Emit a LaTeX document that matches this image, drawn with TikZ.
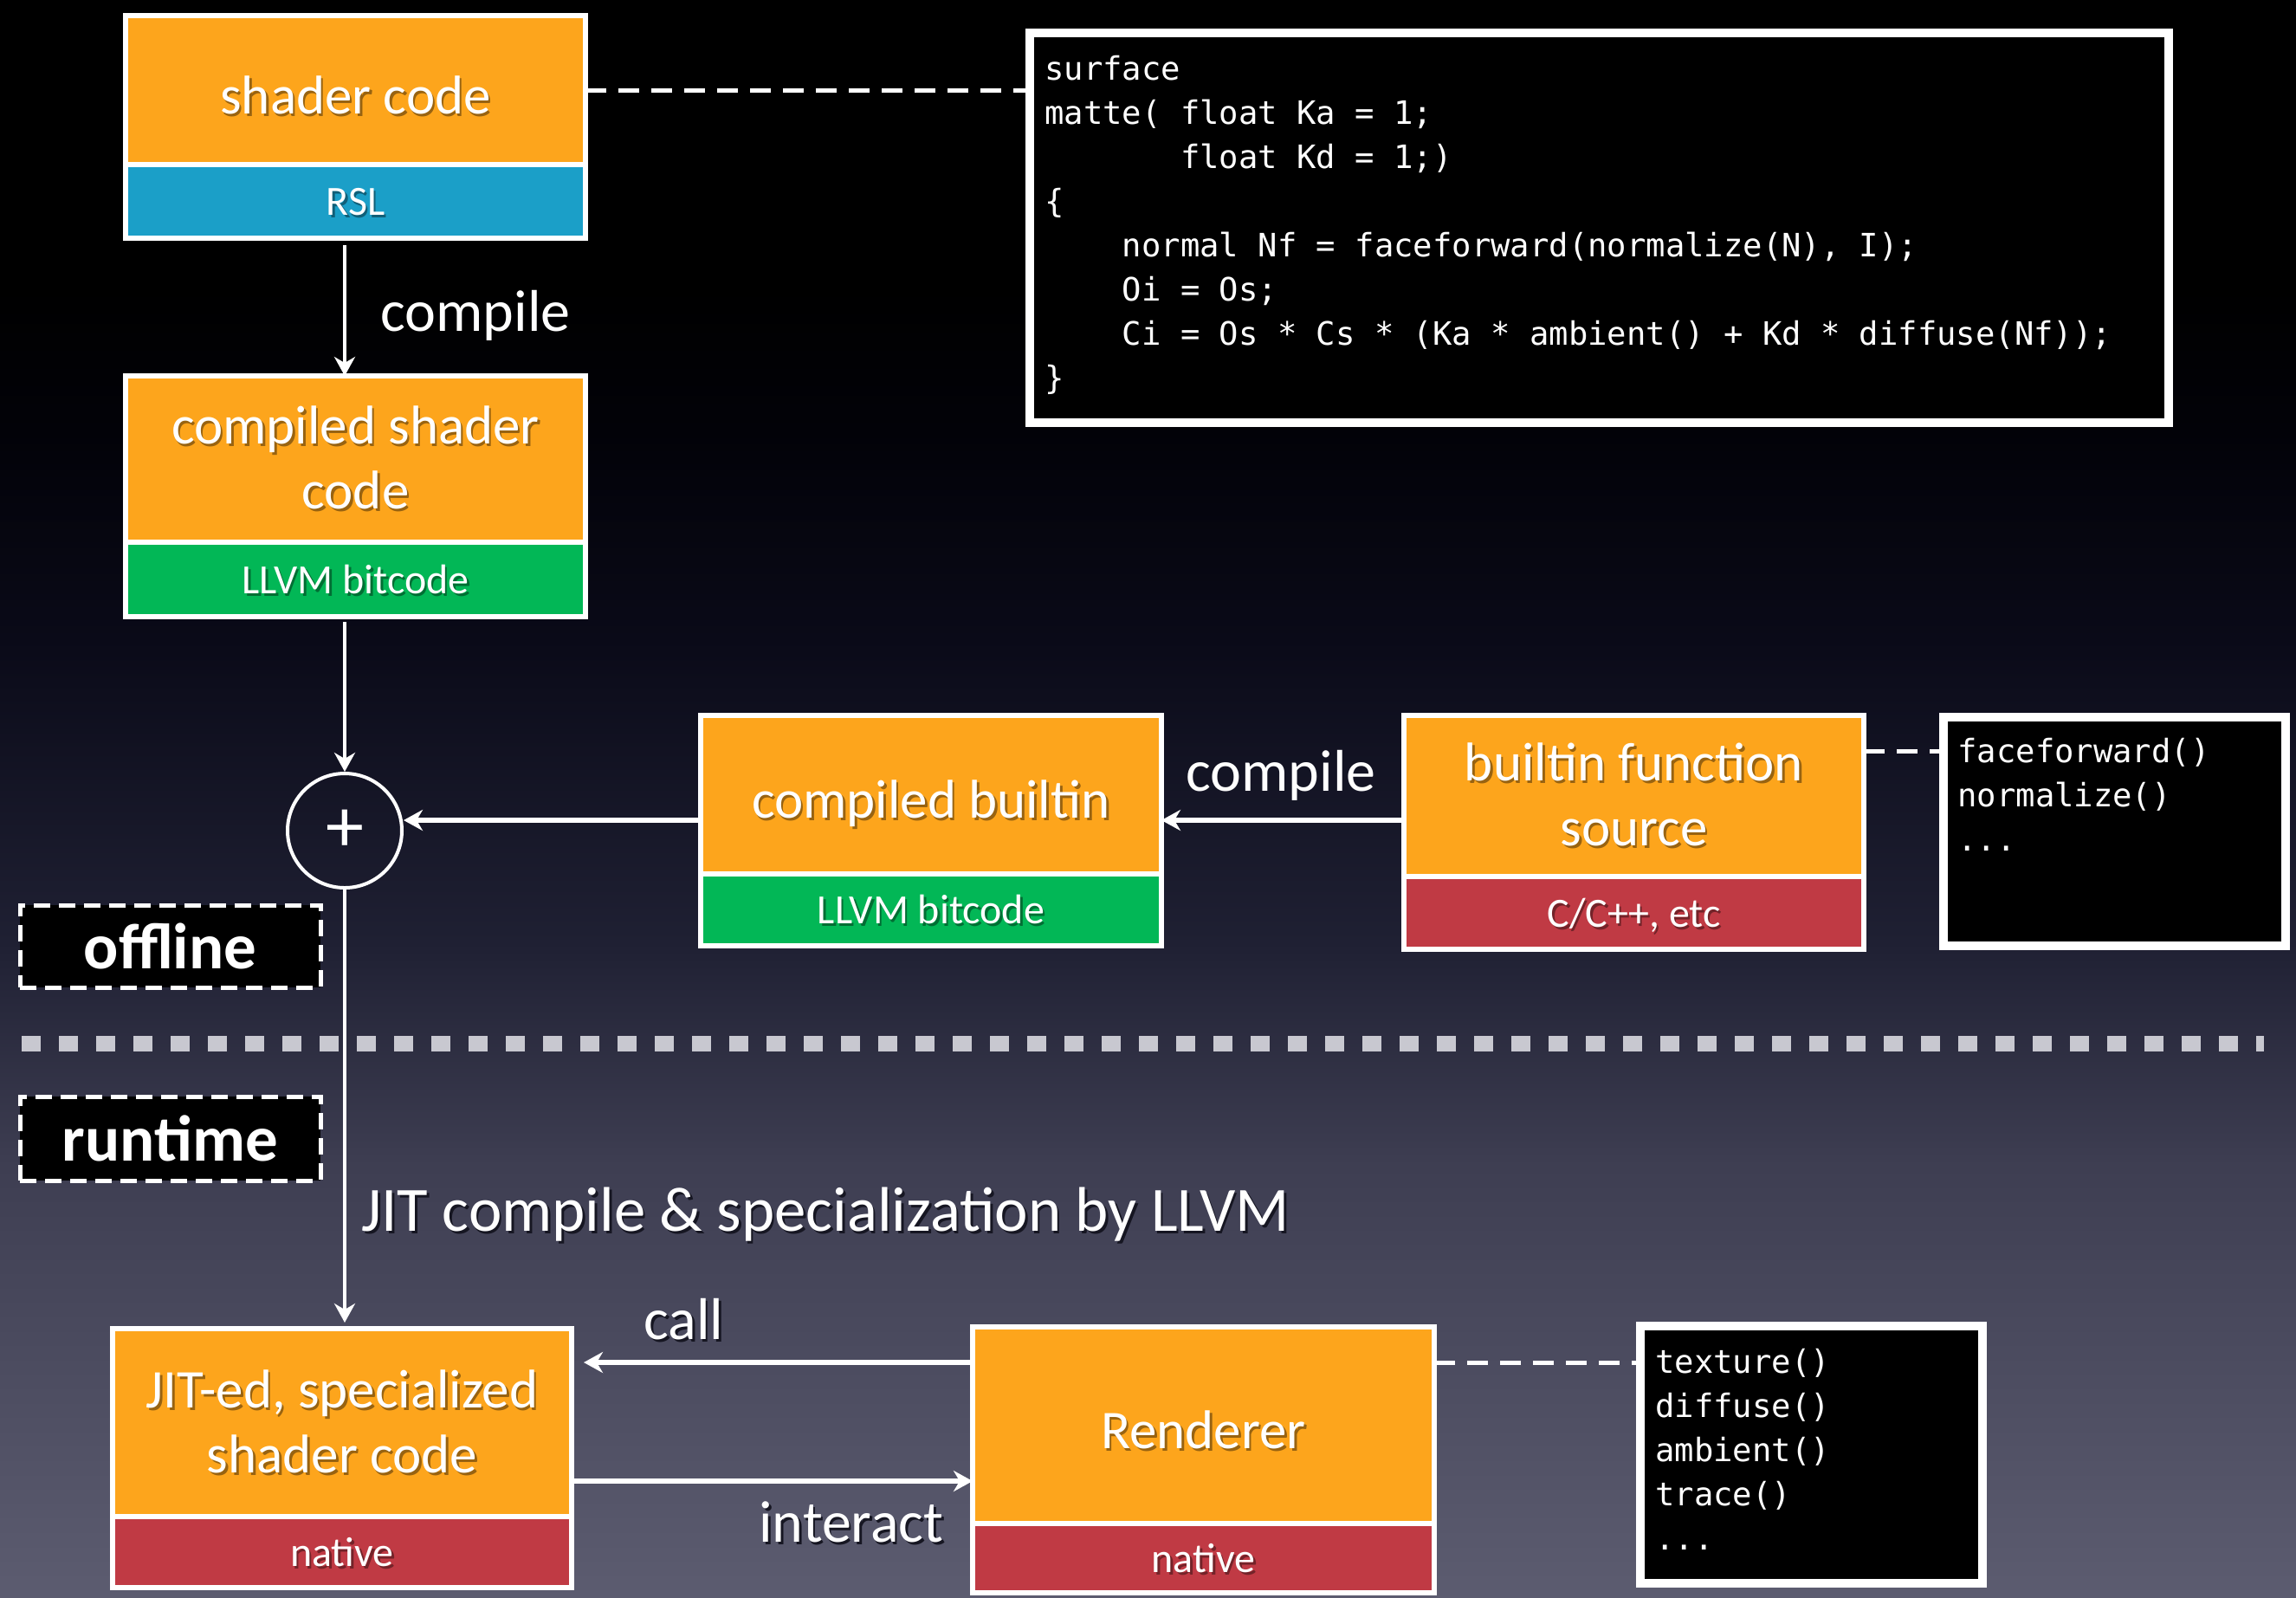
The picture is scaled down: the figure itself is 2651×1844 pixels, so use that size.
\documentclass[tikz,border=0pt]{standalone}
\usepackage{fontspec}
\setmainfont{Carlito}
\newfontfamily\codefont{DejaVu Sans Mono}
\usetikzlibrary{arrows.meta,calc}

% palette
\definecolor{boxorange}{RGB}{253,165,28}
\definecolor{rslblue}{RGB}{27,159,200}
\definecolor{bcgreen}{RGB}{2,183,86}
\definecolor{natred}{RGB}{192,58,68}
\definecolor{sepgray}{RGB}{200,200,208}
\colorlet{oshade}{boxorange!60!black}
\colorlet{bshade}{rslblue!60!black}
\colorlet{gshade}{bcgreen!60!black}
\colorlet{rshade}{natred!60!black}
\definecolor{dshade}{RGB}{22,22,34}
% background ramp, bottom to top
\definecolor{bgA}{RGB}{92,92,112}
\definecolor{bgB}{RGB}{62,62,82}
\definecolor{bgC}{RGB}{31,32,51}
\definecolor{bgD}{RGB}{10,10,24}
\definecolor{bgE}{RGB}{2,2,8}
\pgfdeclareverticalshading{slidebg}{100bp}{%
  color(0bp)=(bgA); color(25bp)=(bgA); color(38.5bp)=(bgB);
  color(45.5bp)=(bgC); color(55bp)=(bgD); color(61.5bp)=(bgE);
  color(66bp)=(black); color(100bp)=(black)}

% text with a drop shadow
\newcommand\sh[2]{\leavevmode\rlap{\kern1.3pt\raisebox{-1.6pt}{\textcolor{#1}{#2}}}#2}
\newcommand\biglbl{\fontsize{31.5pt}{37.5pt}\selectfont}
\newcommand\smalllbl{\fontsize{24pt}{28pt}\selectfont}
\newcommand\edgelbl{\fontsize{34pt}{40pt}\selectfont}
\newcommand\phasefont{\bfseries\fontsize{37.5pt}{40pt}\selectfont}
\newcommand\codesize{\codefont\fontsize{18.6pt}{25.55pt}\selectfont}

\begin{document}
\begin{tikzpicture}[x=0.5pt, y=-0.5pt,
  segbox/.style={draw=white, line width=2.7pt, inner sep=0pt, outer sep=0pt,
    anchor=north west, text=white},
  hibox/.style={segbox, fill=boxorange, font=\biglbl, align=center},
  oneline/.style={text height=27pt, text depth=0pt},
  lobox/.style={segbox, font=\smalllbl, text height=20pt, text depth=4pt},
  panel/.style={draw=white, line width=5pt, fill=black, inner sep=0pt,
    outer sep=0pt, anchor=north west},
  codetext/.style={anchor=base west, inner sep=0pt, text=white, font=\codesize},
  phasetag/.style={draw=white, line width=2.5pt, dash pattern=on 9.5pt off 5pt,
    fill=black, inner sep=0pt, anchor=north west, text=white, font=\phasefont},
  arrowline/.style={draw=white, line width=1.8pt,
    -{Stealth[length=11pt, width=12pt, inset=3.5pt]}},
  harrow/.style={arrowline, line width=2.6pt},
  dashlink/.style={draw=white, line width=2.5pt, dash pattern=on 12pt off 7pt},
  elbl/.style={anchor=base west, inner sep=0pt, text=white, font=\edgelbl},
]
% canvas and background
\useasboundingbox (0,0) rectangle (2651,1844);
\shade[shading=slidebg] (0,0) rectangle (2651,1844);

% offline / runtime separator
\draw[sepgray, line width=9pt, dash pattern=on 11pt off 10.5pt] (25,1205) -- (2614,1205);

% two-part boxes
\node[hibox, oneline, minimum width=265.5pt, minimum height=86pt] (sct) at (145,18) {\sh{oshade}{shader code}};
\node[lobox, fill=rslblue, minimum width=265.5pt, minimum height=42.5pt] (scb) at (145,190) {\sh{bshade}{RSL}};

\node[hibox, minimum width=265.5pt, minimum height=96pt] (csct) at (145,434) {\sh{oshade}{compiled shader}\\\sh{oshade}{code}};
\node[lobox, fill=bcgreen, minimum width=265.5pt, minimum height=43pt] (cscb) at (145,626) {\sh{gshade}{LLVM bitcode}};

\node[hibox, oneline, minimum width=266pt, minimum height=91.5pt] (cbt) at (809,826) {\sh{oshade}{compiled builtin}};
\node[lobox, fill=bcgreen, minimum width=266pt, minimum height=41.5pt] (cbb) at (809,1009) {\sh{gshade}{LLVM bitcode}};

\node[hibox, minimum width=265.5pt, minimum height=93pt] (bfst) at (1621,826) {\sh{oshade}{builtin function}\\\sh{oshade}{source}};
\node[lobox, fill=natred, minimum width=265.5pt, minimum height=42pt] (bfsb) at (1621,1012) {\sh{rshade}{C/C++, etc}};

\node[hibox, minimum width=265pt, minimum height=108.5pt] (jitt) at (130,1534) {\sh{oshade}{JIT-ed, specialized}\\\sh{oshade}{shader code}};
\node[lobox, fill=natred, minimum width=265pt, minimum height=41pt] (jitb) at (130,1751) {\sh{rshade}{native}};

\node[hibox, oneline, minimum width=266.5pt, minimum height=113.5pt] (rent) at (1123,1532) {\sh{oshade}{Renderer}};
\node[lobox, fill=natred, minimum width=266.5pt, minimum height=40pt] (renb) at (1123,1759) {\sh{rshade}{native}};

% code panels
\node[panel, minimum width=657.5pt, minimum height=225pt] (codeA) at (1189,38) {};
\node[codetext] (srcA) at (1206,92) {\begin{tabular}[t]{@{}l@{}}
surface\\
matte( float Ka = 1;\\
\phantom{0000000}float Kd = 1;)\\
\{\\
\phantom{0000}normal Nf = faceforward(normalize(N), I);\\
\phantom{0000}Oi = Os;\\
\phantom{0000}Ci = Os * Cs * (Ka * ambient() + Kd * diffuse(Nf));\\
\}\end{tabular}};

\node[panel, minimum width=197.5pt, minimum height=132pt] (codeB) at (2244,828) {};
\node[codetext] (srcB) at (2260,880) {\begin{tabular}[t]{@{}l@{}}
faceforward()\\
normalize()\\
...\end{tabular}};

\node[panel, minimum width=197.5pt, minimum height=148.5pt] (codeC) at (1894,1531) {};
\node[codetext] (srcC) at (1911,1585) {\begin{tabular}[t]{@{}l@{}}
texture()\\
diffuse()\\
ambient()\\
trace()\\
...\end{tabular}};

% phase tags
\node[phasetag, minimum width=173.5pt, minimum height=47.5pt] (off) at (20.5,1042.5) {offline};
\node[phasetag, minimum width=173.5pt, minimum height=48.5pt] (rt) at (20.5,1263.5) {runtime};

% merge point
\node[circle, draw=white, line width=2pt, minimum size=66pt, inner sep=0pt,
  text=white, font=\fontsize{44pt}{44pt}\selectfont] (plus) at (398,959) {+};

% connectors
\draw[arrowline, shorten <=4pt] (scb.south -| plus) -- (csct.north -| plus);
\draw[arrowline, shorten <=3pt] (cscb.south -| plus) -- (plus.north);
\draw[arrowline, shorten >=3.5pt] (plus.south) -- (jitt.north -| plus);
\coordinate (lvl) at ([yshift=-14.75pt]cbt.west);
\draw[harrow] (bfst.west |- lvl) -- (cbt.east |- lvl);
\draw[harrow] (cbt.west |- lvl) -- (plus.east |- lvl);
\coordinate (cally) at ([yshift=36.25pt]rent.west);
\draw[harrow, shorten >=7pt] (rent.west |- cally) -- (jitt.east |- cally);
\draw[harrow] ([yshift=-33.75pt]jitt.east) -- ([yshift=-33.75pt]jitt.east -| rent.west);

\draw[dashlink] (sct.east) -- (codeA.west |- sct.east);
\draw[dashlink] ([yshift=26pt]bfst.east) -- ([yshift=26pt]bfst.east -| codeB.west);
\draw[dashlink] (rent.east |- cally) -- (codeC.west |- cally);

% connector labels
\node[elbl] (lcomp1) at (439,382) {compile};
\node[elbl] (lcomp2) at (1369,913) {compile};
\node[elbl, font=\fontsize{36.4pt}{40pt}\selectfont] (ljit) at (417,1421) {\sh{dshade}{JIT compile \& specialization by LLVM}};
\node[elbl] (lcall) at (743,1546) {\sh{dshade}{call}};
\node[elbl] (linter) at (876,1780) {\sh{dshade}{interact}};
\end{tikzpicture}
\end{document}
